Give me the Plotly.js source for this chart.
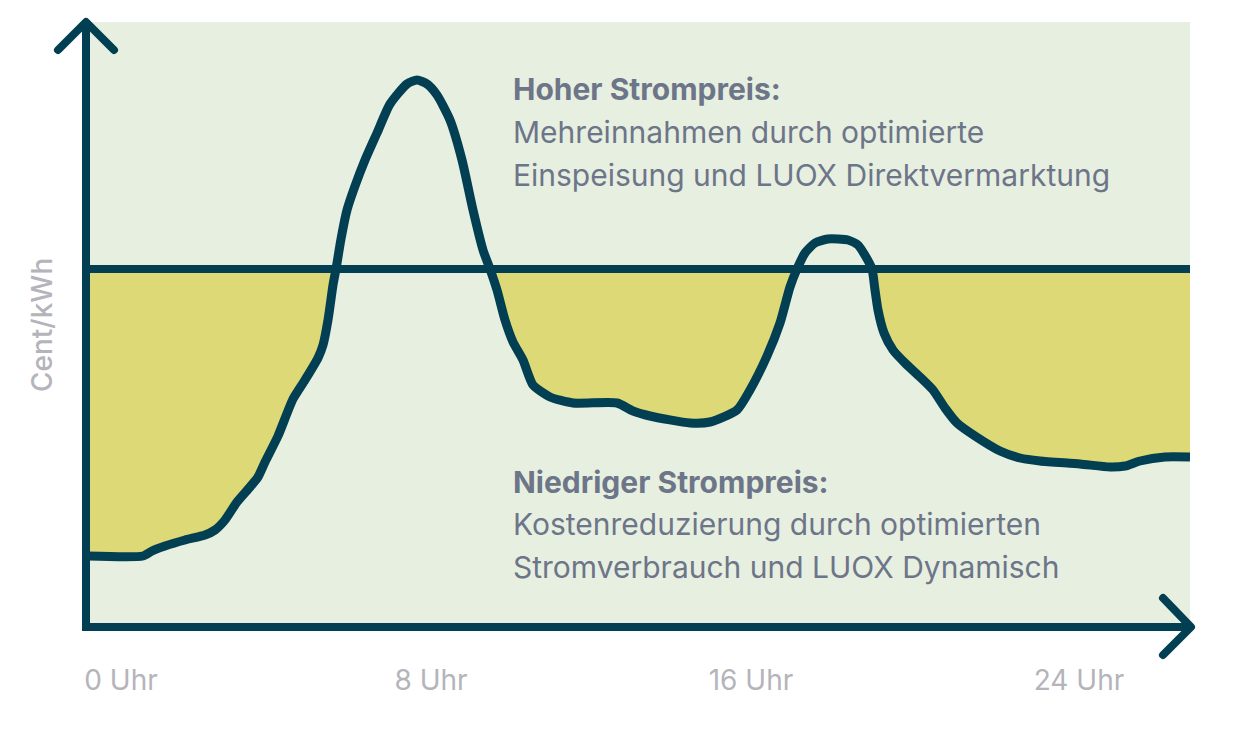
<!DOCTYPE html>
<html>
<head>
<meta charset="utf-8">
<script src="https://cdn.plot.ly/plotly-3.0.1.min.js"></script>
<style>
  html, body { margin: 0; padding: 0; background: #ffffff; }
  #chart { width: 1236px; height: 739px; }
  .scatterlayer path.js-line { stroke-linejoin: round; }
  .shapelayer path { stroke-linejoin: round; }
  .shapelayer path.roundcap { stroke-linecap: round; }
</style>
</head>
<body>
<div id="chart"></div>
<script>
// ---- data (hours of day, price in arbitrary cent/kWh units) ----
const hours = [-0.825, 0.55, 0.775, 1.1, 1.6, 2.1, 2.35, 2.6, 2.9, 3.225, 3.425, 3.6, 3.925, 4.3, 4.6, 4.925, 5.05, 5.175, 5.3, 5.375, 5.5, 5.65, 5.85, 6.1, 6.4, 6.725, 7.15, 7.4, 7.65, 7.9, 8.225, 8.525, 8.8, 9.05, 9.225, 9.4, 9.6, 9.8, 10.05, 10.3, 10.725, 11.3, 12.4, 12.8, 13.225, 14.225, 14.725, 15.4, 15.725, 16.15, 16.475, 16.725, 16.9, 17.1, 17.35, 17.675, 18.175, 18.425, 18.625, 18.775, 18.85, 18.925, 19.075, 19.3, 19.6, 19.975, 20.3, 20.6, 20.9, 21.35, 21.975, 22.475, 22.975, 23.975, 24.725, 25.1, 25.475, 26.1, 26.725];
const price = [7.2, 7.2, 7.7, 8.2, 8.8, 9.3, 9.8, 10.8, 12.6, 14.1, 15.1, 16.6, 19.2, 22.9, 24.8, 27.0, 28.3, 30.8, 34.3, 35.9, 38.9, 41.8, 44.2, 46.8, 49.5, 52.4, 54.4, 54.8, 54.4, 53.3, 50.8, 46.8, 41.8, 37.8, 35.9, 33.8, 30.8, 28.6, 26.8, 24.3, 23.1, 22.5, 22.5, 21.7, 21.2, 20.5, 20.6, 21.8, 23.8, 27.2, 30.5, 34.1, 35.9, 37.5, 38.5, 38.9, 38.8, 38.3, 37.1, 35.9, 33.8, 31.8, 29.5, 27.8, 26.5, 25.1, 23.8, 22.0, 20.5, 19.2, 17.7, 17.0, 16.7, 16.4, 16.1, 16.2, 16.7, 17.1, 17.1];
const threshold = 35.9;
const tickPositions = [0, 7.75, 15.75, 23.95];
const tickLabels = ['0 Uhr', '8 Uhr', '16 Uhr', '24 Uhr'];
const yTitle = 'Cent/kWh';
const highTitle = 'Hoher Strompreis:';
const highLines = ['Mehreinnahmen durch optimierte', 'Einspeisung und LUOX Direktvermarktung'];
const lowTitle = 'Niedriger Strompreis:';
const lowLines = ['Kostenreduzierung durch optimierten', 'Stromverbrauch und LUOX Dynamisch'];

// ---- styles ----
const DARK = '#033f52';
const YELLOW = '#ddd976';
const BG = '#e7efe1';
const TEXT = '#6d7588';
const TICK = '#b4b4ba';
const FONT = 'Inter, "Noto Sans", sans-serif';

const W = 1236, H = 739;
const M = {l: 88, r: 46, t: 22, b: 111};
const PW = W - M.l - M.r, PH = H - M.t - M.b;
const px = x => (x - M.l) / PW;
const py = y => (H - M.b - y) / PH;

const thrLine = hours.map(() => threshold);
const clipped = price.map(v => Math.min(v, threshold));

const traces = [
  {x: hours, y: thrLine, mode: 'lines', line: {width: 0, color: 'rgba(0,0,0,0)'}, hoverinfo: 'skip', showlegend: false},
  {x: hours, y: clipped, mode: 'lines', fill: 'tonexty', fillcolor: YELLOW, line: {width: 0, color: 'rgba(0,0,0,0)'}, hoverinfo: 'skip', showlegend: false},
  {x: hours, y: thrLine, mode: 'lines', line: {width: 8, color: DARK}, hoverinfo: 'skip', showlegend: false},
  {x: hours, y: price, mode: 'lines', line: {width: 9, color: DARK, shape: 'spline', smoothing: 0.6}, hoverinfo: 'skip', showlegend: false}
];

function pathPx(points) {
  return points.map((p, i) => (i ? 'L' : 'M') + px(p[0]).toFixed(5) + ',' + py(p[1]).toFixed(5)).join(' ');
}

const shapes = [
  {type: 'path', xref: 'paper', yref: 'paper', path: pathPx([[86, 24], [86, 627], [1188, 627]]), line: {color: DARK, width: 8}},
  {type: 'path', xref: 'paper', yref: 'paper', path: pathPx([[58, 50], [86, 22], [114, 50]]), line: {color: DARK, width: 8}},
  {type: 'path', xref: 'paper', yref: 'paper', path: pathPx([[1163, 598], [1191, 627], [1163, 655]]), line: {color: DARK, width: 8}}
];

function ann(text, xPx, yPx, opts) {
  return Object.assign({
    text: text, xref: 'paper', yref: 'paper', x: px(xPx), y: py(yPx),
    xanchor: 'left', yanchor: 'middle', showarrow: false,
    font: {family: FONT, size: 30, color: TEXT}
  }, opts || {});
}

const annotations = [
  ann('<b>' + highTitle + '</b>', 511, 89),
  ann(highLines[0], 511, 132),
  ann(highLines[1], 511, 175),
  ann('<b>' + lowTitle + '</b>', 511, 482),
  ann(lowLines[0], 511, 524),
  ann(lowLines[1], 511, 567),
  {text: yTitle, xref: 'paper', yref: 'paper', x: px(42), y: py(325), xanchor: 'center', yanchor: 'middle',
   textangle: -90, showarrow: false, font: {family: FONT, size: 28, weight: 500, color: TICK}}
];

const layout = {
  width: W, height: H,
  margin: M,
  paper_bgcolor: '#ffffff',
  plot_bgcolor: BG,
  showlegend: false,
  xaxis: {
    range: [hours[0], hours[hours.length - 1]],
    showgrid: false, zeroline: false, showline: false,
    tickmode: 'array', tickvals: tickPositions, ticktext: tickLabels,
    ticks: 'outside', ticklen: 27, tickcolor: 'rgba(0,0,0,0)',
    tickfont: {family: FONT, size: 28, color: TICK},
    fixedrange: true
  },
  yaxis: {
    range: [0, (H - M.b - M.t) / 10],
    showgrid: false, zeroline: false, showline: false, showticklabels: false, ticks: '',
    fixedrange: true
  },
  shapes: shapes,
  annotations: annotations
};

Plotly.newPlot('chart', traces, layout, {displayModeBar: false, staticPlot: true}).then(() => {
  const paths = document.querySelectorAll('.shapelayer path');
  paths.forEach((p, i) => { if (i > 0) p.classList.add('roundcap'); else p.style.strokeLinejoin = 'miter'; });
});
</script>
</body>
</html>
